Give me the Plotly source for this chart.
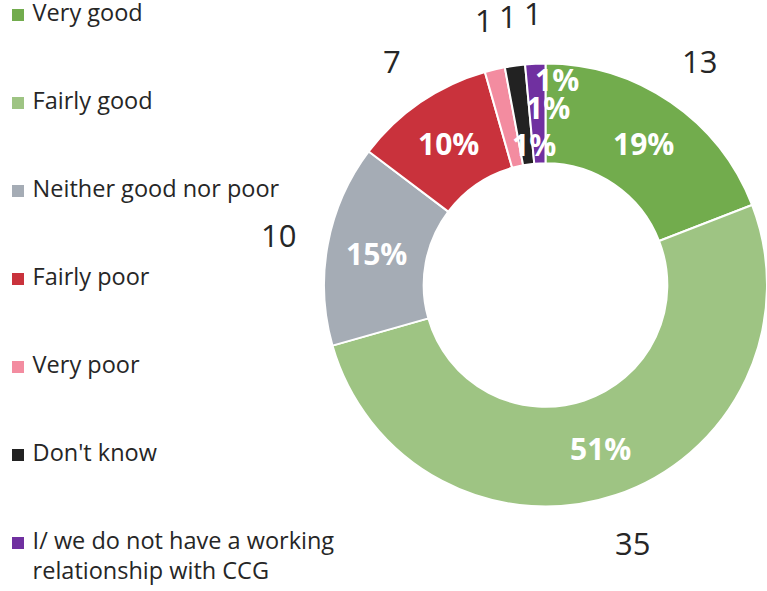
import math
import plotly.graph_objects as go

# ---- data ----
categories = ["Very good", "Fairly good", "Neither good nor poor", "Fairly poor",
              "Very poor", "Don't know",
              "I/ we do not have a working relationship with CCG"]
legend_labels = ["Very good", "Fairly good", "Neither good nor poor", "Fairly poor",
                 "Very poor", "Don't know",
                 "I/ we do not have a working<br>relationship with CCG"]
counts = [13, 35, 10, 7, 1, 1, 1]
colors = ["#72AC4D", "#9EC483", "#A5ACB5", "#C9323C", "#F38CA0", "#222222", "#7030A0"]

W, H = 767, 591
CX, CY, R_OUT = 546, 285, 222
HOLE = 0.55
R_PCT = R_OUT * (1 + HOLE) / 2
R_VAL = 272
# style nudges for crowded small-slice percentage labels: (radius, angle shift deg)
pct_nudge = [None, None, None, None, (141, 8.3), (178, 8.5), (206, 5.6)]
LEG_X0, LEG_Y0, LEG_STEP = 18, 15, 88   # legend layout (pixels)


def leg_text(s):
    # pad with a space; multi-line entries get a blank first line so the
    # first text line sits next to the marker
    lines = s.split("<br>")
    lines = ["\u00a0" + ln for ln in lines]
    if len(lines) == 2:
        lines = ["\u00a0"] + lines
    return "<br>".join(lines)


fig = go.Figure()
fig.add_trace(go.Pie(
    labels=categories, values=counts, sort=False, direction="clockwise",
    rotation=0, hole=HOLE, textinfo="none", showlegend=False,
    marker=dict(colors=colors, line=dict(color="white", width=2)),
    domain=dict(x=[(CX - R_OUT) / W, 1.0],
                y=[1 - (CY + R_OUT) / H, 1 - (CY - R_OUT) / H]),
))

# legend drawn as a scatter of category index
idx = list(range(len(categories)))
fig.add_trace(go.Scatter(
    x=[0] * len(idx), y=idx, mode="markers+text",
    text=[leg_text(s) for s in legend_labels],
    textposition="middle right", showlegend=False, hoverinfo="skip",
    cliponaxis=False,
    marker=dict(symbol="square", size=12, color=colors, line=dict(width=0)),
    textfont=dict(size=23.5, color="#262626", family="Open Sans"),
))

total = sum(counts)
cum = 0
anns = []
for i, v in enumerate(counts):
    mid = (cum + v / 2) / total * 2 * math.pi
    cum += v
    xv = CX + R_VAL * math.sin(mid)
    yv = CY - R_VAL * math.cos(mid)
    anns.append(dict(x=xv / W, y=1 - yv / H, xref="paper", yref="paper",
                     xanchor="center", yanchor="middle",
                     text=str(v), showarrow=False,
                     font=dict(size=31, color="#262626", family="Open Sans")))
    r, a = R_PCT, mid
    if pct_nudge[i]:
        r = pct_nudge[i][0]
        a = mid + math.radians(pct_nudge[i][1])
    xp = CX + r * math.sin(a)
    yp = CY - r * math.cos(a)
    anns.append(dict(x=xp / W, y=1 - yp / H, xref="paper", yref="paper",
                     xanchor="center", yanchor="middle",
                     text="<b>%d%%</b>" % round(v / total * 100), showarrow=False,
                     font=dict(size=30, color="white", family="Open Sans")))

fig.update_layout(
    width=W, height=H, margin=dict(l=0, r=0, t=0, b=0),
    paper_bgcolor="white", plot_bgcolor="rgba(0,0,0,0)",
    xaxis=dict(visible=False, domain=[0, 1], range=[-LEG_X0, W - LEG_X0],
               fixedrange=True),
    yaxis=dict(visible=False, domain=[0, 1],
               range=[(H - LEG_Y0) / LEG_STEP, -LEG_Y0 / LEG_STEP],
               fixedrange=True),
    annotations=anns,
    showlegend=False,
    font=dict(family="Open Sans"),
)

fig.write_html("out.html", config={"displayModeBar": False},
               post_script="document.body.style.margin='0px';")
